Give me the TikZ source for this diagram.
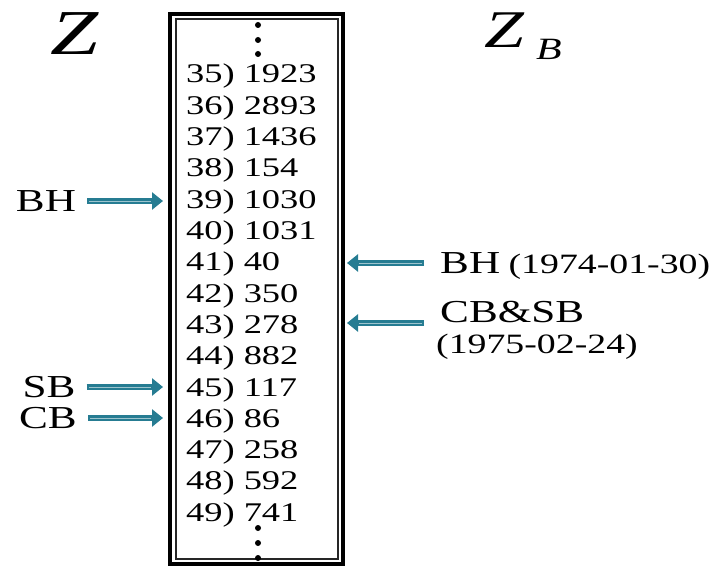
\documentclass[tikz,border=0pt]{standalone}
\usepackage{fontspec}
\setmainfont[FakeStretch=1.35]{Liberation Serif}
\usetikzlibrary{arrows.meta,positioning}
\definecolor{arrowteal}{RGB}{38,124,146}

\tikzset{
  row/.style={anchor=base west, inner sep=0pt, font=\fontsize{27}{27}\selectfont},
  lbl/.style={inner sep=0pt, font=\fontsize{32}{32}\selectfont},
  datelbl/.style={inner sep=0pt, font=\fontsize{28}{28}\selectfont},
  blockarrow/.style={draw=arrowteal, line width=6pt, -{Triangle[length=11pt,width=17pt]}},
  arrowcore/.style={draw=arrowteal!45!white, line width=0.8pt},
}

\begin{document}
\begin{tikzpicture}[x=1pt,y=-1pt]
  \useasboundingbox (0,0) rectangle (724,567);
  % the column
  \draw[line width=3.5pt] (170,14) rectangle (343,564);
  \draw[line width=1.2pt, black!85] (176,19) rectangle (338,559);
  \foreach \y in {25,40,54,528,543,558}
    \fill (258,\y) circle (3pt);
  \foreach \n/\v [count=\i from 0] in {35/1923,36/2893,37/1436,38/154,39/1030,40/1031,41/40,42/350,43/278,44/882,45/117,46/86,47/258,48/592,49/741}
    \node[row] (r\n) at (186,{83+31.3*\i}) {\n)\hspace{9pt}\v};

  % titles
  \node[inner sep=0pt, font=\fontsize{64}{64}\selectfont\itshape] (z) at (75,34) {Z};
  \node[inner sep=0pt, font=\fontsize{53}{53}\selectfont\itshape] (zb) at (504,30) {Z};
  \node[inner sep=0pt, font=\fontsize{31}{31}\selectfont\itshape, anchor=base west] (b) at (536,60) {B};

  % left labels
  \node[lbl] (lbh) at (46,201) {BH};
  \node[lbl] (lsb) at (49,387) {SB};
  \node[lbl] (lcb) at (48,418) {CB};
  \coordinate (t39) at (163,201);
  \coordinate (t45) at (163,387);
  \coordinate (t46) at (163,418);
  \foreach \a/\b in {lbh/t39,lsb/t45,lcb/t46}{
    \draw[blockarrow] ([xshift=11pt]\a.east |- \b) -- (\b);
    \draw[arrowcore] ([xshift=13pt]\a.east |- \b) -- ([xshift=-12pt]\b);
  }

  % right labels
  \node[lbl, anchor=west] (rbh) at (440,263) {BH};
  \node[datelbl, anchor=base west] (d1) at ([xshift=8pt]rbh.base east) {(1974-01-30)};
  \node[lbl, anchor=west] (rcs) at (440,312) {CB\&SB};
  \node[datelbl, anchor=north west] (d2) at (436,334) {(1975-02-24)};
  \coordinate (t41) at (347,263);
  \coordinate (t43) at (347,323);
  \coordinate (s41) at (424,263);
  \coordinate (s43) at (424,323);
  \foreach \a/\b in {s41/t41,s43/t43}{
    \draw[blockarrow] (\a) -- (\b);
    \draw[arrowcore] ([xshift=-2pt]\a) -- ([xshift=12pt]\b);
  }
\end{tikzpicture}
\end{document}
